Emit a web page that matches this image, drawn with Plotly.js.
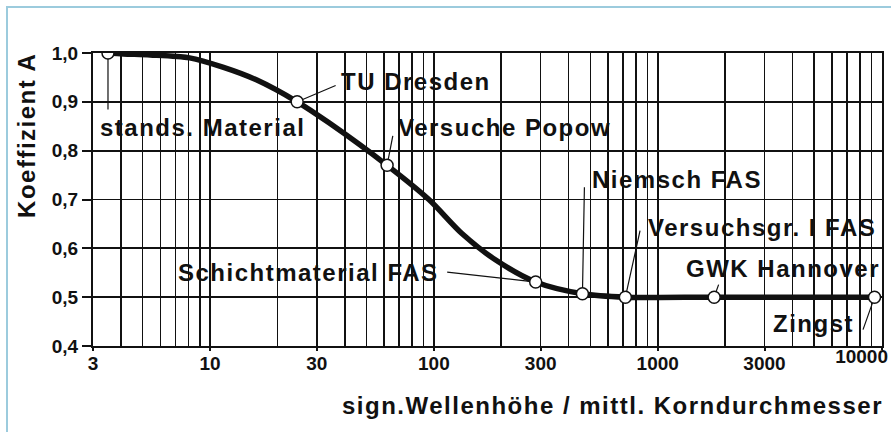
<!DOCTYPE html>
<html>
<head>
<meta charset="utf-8">
<script src="https://cdn.plot.ly/plotly-3.0.1.min.js"></script>
<style>
  html, body { margin: 0; padding: 0; background: #fff; }
  #wrap { position: relative; width: 891px; height: 432px; }
  #chart { position: absolute; left: 0; top: 0; width: 891px; height: 432px; }
  #frame { position: absolute; left: 6px; top: 6px; width: 885px; height: 426px;
           border-top: 2px solid #9ccbdd; border-left: 2px solid #9ccbdd; box-sizing: border-box; pointer-events: none; }
  .annotation-text { letter-spacing: 1.5px; }
</style>
</head>
<body>
<div id="wrap"><div id="chart"></div><div id="frame"></div></div>
<script>
// Curve
const curveX = [3.5, 4.1, 5.4, 8.1, 11.4, 16.1, 24.5, 34, 61.8, 95, 133, 189, 285, 461, 717, 1787, 9300];
const curveY = [1.0, 0.998, 0.996, 0.99, 0.971, 0.945, 0.9, 0.857, 0.77, 0.70, 0.631, 0.576, 0.531, 0.507, 0.5, 0.5, 0.5];

// Data points with labels
const pointNames = ["stands. Material", "TU Dresden", "Versuche Popow", "Schichtmaterial FAS",
                    "Niemsch FAS", "Versuchsgr. I FAS", "GWK Hannover", "Zingst"];
const pointX = [3.5, 24.5, 61.8, 285, 461, 717, 1787, 9300];
const pointY = [1.0, 0.9, 0.77, 0.531, 0.507, 0.5, 0.5, 0.5];

// Axis ticks
const xTickVals = [3, 10, 30, 100, 300, 1000, 3000];
const xTickText = ["3", "10", "30", "100", "300", "1000", "3000"];
const xEndTickVals = [10000];
const xEndTickText = ["10000"];
const xGridVals = [3,4,5,6,7,8,9,10,20,30,40,50,60,70,80,90,100,200,300,400,500,600,700,800,900,
                   1000,2000,3000,4000,5000,6000,7000,8000,9000,10000];
const yTickVals = [0.4, 0.5, 0.6, 0.7, 0.8, 0.9, 1.0];

const FONT = "Arial, 'Liberation Sans', Helvetica, sans-serif";
const INK = "#111";

// label placement: [xanchor, xshift, yshift, leader ax, leader ay]
const labelPos = [
  ["left", -10, -74, 0, 58],
  ["left", 42, 20, 40, -17],
  ["left", 9, 38, 6, -31],
  ["right", -95, 10, -90, -10],
  ["left", 8, 114, 2, -108],
  ["left", 21, 70, 15, -68],
  ["left", -30, 29, 5, -14],
  ["right", -19, -26, -12, 34]
];

const annotations = [];
pointNames.forEach((name, i) => {
  const p = labelPos[i];
  annotations.push({
    x: Math.log10(pointX[i]), y: pointY[i], xref: "x", yref: "y",
    text: "", showarrow: true, arrowhead: 0, arrowwidth: 1.2, arrowcolor: INK,
    ax: p[3], ay: p[4], standoff: 6
  });
  annotations.push({
    x: Math.log10(pointX[i]), y: pointY[i], xref: "x", yref: "y",
    text: "<b>" + name + "</b>", showarrow: false,
    xanchor: p[0], yanchor: "middle", xshift: p[1], yshift: p[2],
    font: {family: FONT, size: 24, color: INK}
  });
});
annotations.push({
  xref: "paper", yref: "paper", x: 1, y: 0, xanchor: "right", yanchor: "middle",
  yshift: -59, xshift: 3, showarrow: false,
  text: "<b>sign.Wellenhöhe / mittl. Korndurchmesser</b>",
  font: {family: FONT, size: 24, color: INK}
});
annotations.push({
  xref: "paper", yref: "paper", x: 0, y: 0.717, xanchor: "center", yanchor: "middle",
  xshift: -66, showarrow: false, textangle: -90,
  text: "<b>Koeffizient A</b>",
  font: {family: FONT, size: 24, color: INK}
});

const xRange = [Math.log10(3), 4.002];

const traces = [
  {x: curveX, y: curveY, type: "scatter", mode: "lines",
   line: {color: INK, width: 5.5, shape: "spline", smoothing: 0.8}, hoverinfo: "skip"},
  {x: pointX, y: pointY, type: "scatter", mode: "markers",
   marker: {symbol: "circle", size: 12, color: "#fff", line: {color: INK, width: 1.5}}},
  {x: pointX, y: pointY, xaxis: "x2", type: "scatter", mode: "markers",
   marker: {size: 12, opacity: 0}, hoverinfo: "skip"}
];

const layout = {
  width: 891, height: 432,
  margin: {l: 93, r: 9, t: 53, b: 86},
  paper_bgcolor: "#fff", plot_bgcolor: "#fff",
  showlegend: false,
  separators: ",.",
  xaxis: {
    type: "log", range: xRange,
    tickmode: "array", tickvals: xTickVals, ticktext: xTickText,
    ticks: "outside", ticklen: 3, tickwidth: 2, tickcolor: INK,
    ticklabelstandoff: -4,
    showgrid: true, gridcolor: INK, gridwidth: 1.6,
    minor: {tickmode: "array", tickvals: xGridVals, showgrid: true, gridcolor: INK, gridwidth: 1.6, ticks: ""},
    showline: true, linecolor: INK, linewidth: 2, mirror: true,
    zeroline: false,
    tickfont: {family: FONT, size: 19, color: INK, weight: "bold"}
  },
  xaxis2: {
    type: "log", range: xRange, overlaying: "x", anchor: "y", side: "bottom",
    tickmode: "array", tickvals: xEndTickVals, ticktext: xEndTickText,
    ticks: "outside", ticklen: 3, tickwidth: 2, tickcolor: INK,
    ticklabelstandoff: -10, ticklabelshift: -20, ticklabeloverflow: "allow",
    showgrid: false, showline: false, zeroline: false,
    tickfont: {family: FONT, size: 19, color: INK, weight: "bold"}
  },
  yaxis: {
    range: [0.4, 1.0], tickmode: "array", tickvals: yTickVals, tickformat: ".1f",
    ticks: "outside", ticklen: 9, tickwidth: 2, tickcolor: INK,
    showgrid: true, gridcolor: INK, gridwidth: 1.8,
    showline: true, linecolor: INK, linewidth: 2, mirror: true,
    zeroline: false,
    tickfont: {family: FONT, size: 19, color: INK, weight: "bold"}
  },
  annotations: annotations
};

Plotly.newPlot("chart", traces, layout, {displayModeBar: false, staticPlot: true});
</script>
</body>
</html>
